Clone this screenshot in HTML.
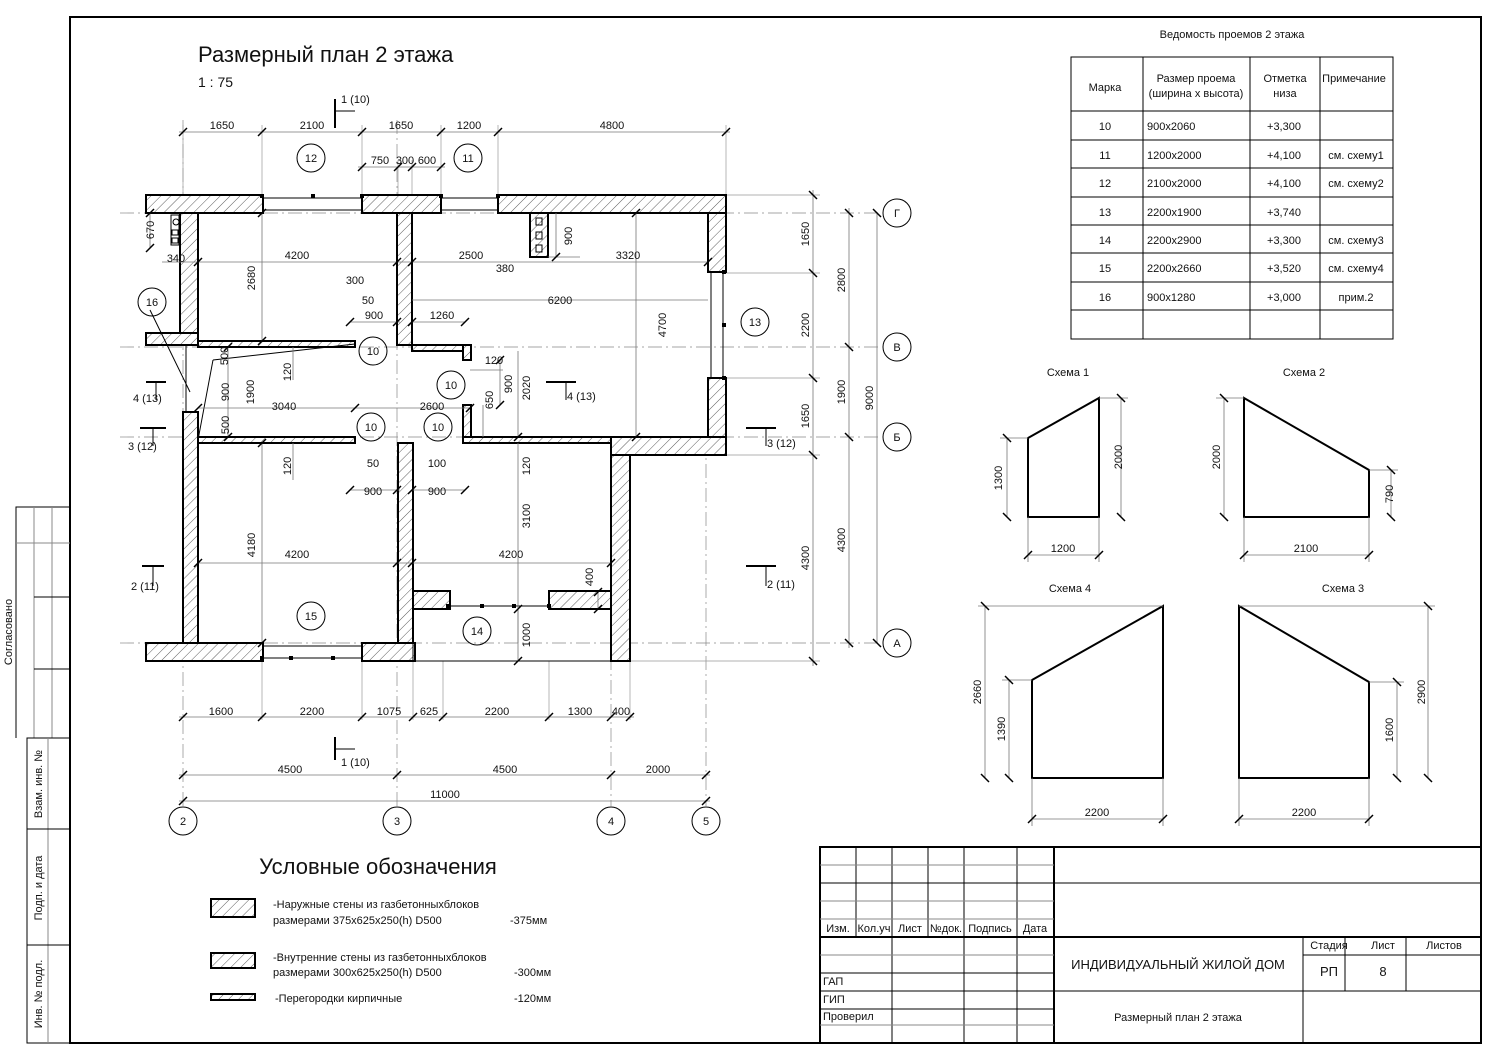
<!DOCTYPE html>
<html><head><meta charset="utf-8"><style>
html,body{margin:0;padding:0;background:#fff;}
svg{display:block;font-family:"Liberation Sans Narrow","Liberation Sans","DejaVu Sans",sans-serif;}
.t{font-size:11px;fill:#111;}
.dim{stroke:#777;stroke-width:0.8;fill:none;}
.ext{stroke:#999;stroke-width:0.7;fill:none;}
.tk{stroke:#000;stroke-width:1.5;}
.w{fill:url(#h);stroke:#000;stroke-width:2;}
.ln{stroke:#000;stroke-width:1;fill:none;}
.ax{stroke:#888;stroke-width:0.7;stroke-dasharray:14 4 2 4;fill:none;}
</style></head><body>
<svg width="1500" height="1061" viewBox="0 0 1500 1061" xmlns="http://www.w3.org/2000/svg">
<defs>
<pattern id="h" width="7" height="7" patternUnits="userSpaceOnUse" patternTransform="rotate(45)">
<rect width="7" height="7" fill="#fff"/><line x1="0" y1="0" x2="0" y2="7" stroke="#333" stroke-width="0.8"/>
</pattern>
</defs>
<rect width="1500" height="1061" fill="#fff"/>
<!-- frame -->
<rect x="70" y="17" width="1411" height="1026" fill="none" stroke="#000" stroke-width="2"/>
<!-- left stamp -->
<g class="ln">
<polyline points="70,507 16,507 16,738"/>
<line x1="34" y1="507" x2="34" y2="738" stroke="#888"/><line x1="52" y1="507" x2="52" y2="738" stroke="#888"/>
<line x1="16" y1="543" x2="70" y2="543" stroke="#888"/><line x1="34" y1="597" x2="70" y2="597"/><line x1="34" y1="669" x2="70" y2="669"/>
<polyline points="70,738 27,738 27,1043 70,1043"/>
<line x1="48" y1="738" x2="48" y2="1043" stroke="#888"/>
<line x1="27" y1="829" x2="70" y2="829"/><line x1="27" y1="945" x2="70" y2="945"/>
</g>
<g class="t" font-size="10">
<text transform="translate(12,632) rotate(-90)" text-anchor="middle">Согласовано</text>
<text transform="translate(42,784) rotate(-90)" text-anchor="middle">Взам. инв. №</text>
<text transform="translate(42,888) rotate(-90)" text-anchor="middle">Подп. и дата</text>
<text transform="translate(42,994) rotate(-90)" text-anchor="middle">Инв. № подл.</text>
</g>

<!-- title -->
<text x="198" y="62" font-size="22" fill="#111">Размерный план 2 этажа</text>
<text x="198" y="87" font-size="14" fill="#111">1 : 75</text>

<!-- axes -->
<g class="ax">
<line x1="120" y1="213" x2="882" y2="213"/><line x1="120" y1="347" x2="882" y2="347"/>
<line x1="120" y1="437" x2="882" y2="437"/><line x1="120" y1="643" x2="882" y2="643"/>
<line x1="183" y1="120" x2="183" y2="806"/><line x1="397" y1="120" x2="397" y2="806"/>
<line x1="611" y1="440" x2="611" y2="806"/><line x1="706" y1="440" x2="706" y2="806"/>
</g>
<!-- extension lines -->
<g class="ext">
<line x1="183" y1="125" x2="183" y2="195"/><line x1="262" y1="125" x2="262" y2="195"/><line x1="362" y1="125" x2="362" y2="195"/>
<line x1="441" y1="125" x2="441" y2="195"/><line x1="498" y1="125" x2="498" y2="195"/><line x1="726" y1="125" x2="726" y2="195"/>
<line x1="398" y1="160" x2="398" y2="195"/><line x1="412" y1="160" x2="412" y2="195"/>
<line x1="726" y1="195" x2="820" y2="195"/><line x1="726" y1="273" x2="820" y2="273"/><line x1="726" y1="378" x2="820" y2="378"/>
<line x1="726" y1="455" x2="820" y2="455"/><line x1="630" y1="661" x2="820" y2="661"/>
<line x1="262" y1="661" x2="262" y2="720"/><line x1="362" y1="661" x2="362" y2="720"/><line x1="413" y1="661" x2="413" y2="720"/>
<line x1="443" y1="661" x2="443" y2="720"/><line x1="549" y1="661" x2="549" y2="720"/><line x1="630" y1="661" x2="630" y2="720"/>
</g>
<!-- top dims -->
<g class="dim"><line x1="179" y1="132" x2="730" y2="132"/><line x1="358" y1="167" x2="445" y2="167"/></g>
<g class="tk">
<line x1="179" y1="136" x2="187" y2="128"/><line x1="258" y1="136" x2="266" y2="128"/><line x1="358" y1="136" x2="366" y2="128"/>
<line x1="437" y1="136" x2="445" y2="128"/><line x1="494" y1="136" x2="502" y2="128"/><line x1="722" y1="136" x2="730" y2="128"/>
<line x1="358" y1="171" x2="366" y2="163"/><line x1="394" y1="171" x2="402" y2="163"/><line x1="408" y1="171" x2="416" y2="163"/><line x1="437" y1="171" x2="445" y2="163"/>
</g>
<g class="t" text-anchor="middle">
<text x="222" y="129">1650</text><text x="312" y="129">2100</text><text x="401" y="129">1650</text><text x="469" y="129">1200</text><text x="612" y="129">4800</text>
<text x="380" y="164">750</text><text x="405" y="164">300</text><text x="427" y="164">600</text>
</g>
<g class="ln"><circle cx="311" cy="158" r="14"/><circle cx="468" cy="158" r="14"/></g>
<g class="t" text-anchor="middle"><text x="311" y="162">12</text><text x="468" y="162">11</text></g>
<!-- section marks -->
<g stroke="#000" stroke-width="2"><line x1="335" y1="99" x2="335" y2="128"/><line x1="335" y1="737" x2="335" y2="760"/>
<line x1="146" y1="382" x2="166" y2="382"/><line x1="140" y1="428" x2="166" y2="428"/><line x1="142" y1="566" x2="164" y2="566"/>
<line x1="546" y1="382" x2="576" y2="382"/><line x1="746" y1="428" x2="776" y2="428"/><line x1="746" y1="566" x2="776" y2="566"/></g>
<g class="ln" stroke-width="0.8"><line x1="336" y1="111" x2="355" y2="111"/><line x1="336" y1="749" x2="355" y2="749"/>
<line x1="156" y1="383" x2="156" y2="400"/><line x1="153" y1="429" x2="153" y2="446"/><line x1="153" y1="567" x2="153" y2="586"/>
<line x1="566" y1="383" x2="566" y2="400"/><line x1="766" y1="429" x2="766" y2="446"/><line x1="766" y1="567" x2="766" y2="586"/></g>
<g class="t" font-size="9">
<text x="341" y="103">1 (10)</text><text x="341" y="766">1 (10)</text>
<text x="133" y="402">4 (13)</text><text x="128" y="450">3 (12)</text><text x="131" y="590">2 (11)</text>
<text x="567" y="400">4 (13)</text><text x="767" y="447">3 (12)</text><text x="767" y="588">2 (11)</text>
</g>

<!-- WALLS -->
<g class="w">
<rect x="146" y="195" width="117" height="18"/>
<rect x="362" y="195" width="79" height="18"/>
<rect x="498" y="195" width="228" height="18"/>
<rect x="180" y="213" width="18" height="120"/>
<rect x="146" y="333" width="52" height="12"/>
<rect x="183" y="412" width="15" height="249"/>
<rect x="146" y="643" width="117" height="18"/>
<rect x="362" y="643" width="53" height="18"/>
<rect x="398" y="443" width="15" height="200"/>
<rect x="397" y="213" width="15" height="132"/>
<rect x="708" y="213" width="18" height="59"/>
<rect x="708" y="378" width="18" height="77"/>
<rect x="611" y="437" width="115" height="18"/>
<rect x="611" y="455" width="19" height="206"/>
<rect x="413" y="591" width="37" height="18"/>
<rect x="549" y="591" width="62" height="18"/>
<rect x="530" y="213" width="18" height="44"/>
<rect x="198" y="341" width="157" height="6"/>
<rect x="198" y="437" width="157" height="6"/>
<rect x="412" y="345" width="59" height="6"/>
<rect x="463" y="345" width="8" height="15"/>
<rect x="463" y="405" width="8" height="32"/>
<rect x="463" y="437" width="148" height="6"/>
</g>
<g class="ln" stroke-width="1.5">
<line x1="413" y1="609" x2="413" y2="661"/><line x1="413" y1="661" x2="630" y2="661"/>
<line x1="263" y1="198" x2="362" y2="198"/><line x1="263" y1="210" x2="362" y2="210"/>
<line x1="441" y1="198" x2="498" y2="198"/><line x1="441" y1="210" x2="498" y2="210"/>
<line x1="263" y1="646" x2="362" y2="646"/><line x1="263" y1="658" x2="362" y2="658"/>
<line x1="450" y1="606" x2="549" y2="606"/>
<line x1="723" y1="272" x2="723" y2="378"/><line x1="711" y1="272" x2="711" y2="378"/>
<line x1="186" y1="345" x2="186" y2="412"/>
</g>
<g fill="#000">
<rect x="311" y="194" width="4" height="4"/><rect x="260" y="194" width="4" height="4"/><rect x="360" y="194" width="4" height="4"/>
<rect x="439" y="194" width="4" height="4"/><rect x="496" y="194" width="4" height="4"/>
<rect x="722" y="270" width="4" height="4"/><rect x="722" y="323" width="4" height="4"/><rect x="722" y="376" width="4" height="4"/>
<rect x="289" y="656" width="4" height="4"/><rect x="260" y="656" width="4" height="4"/><rect x="331" y="656" width="4" height="4"/>
<rect x="446" y="604" width="4" height="4"/><rect x="480" y="604" width="4" height="4"/><rect x="512" y="604" width="4" height="4"/><rect x="547" y="604" width="4" height="4"/>
</g>
<g class="ln" stroke-width="0.8"><rect x="171" y="215" width="8" height="30"/><circle cx="176" cy="222" r="3"/><rect x="172" y="230" width="6" height="5"/><rect x="172" y="238" width="6" height="5"/>
<rect x="536" y="218" width="6" height="7"/><rect x="536" y="232" width="6" height="7"/><rect x="536" y="245" width="6" height="7"/>
<line x1="198" y1="440" x2="213" y2="360"/><line x1="213" y1="360" x2="355" y2="344"/><line x1="150" y1="310" x2="190" y2="392"/></g>

<!-- interior dims -->
<g class="dim">
<line x1="198" y1="262" x2="708" y2="262"/><line x1="198" y1="408" x2="470" y2="408"/><line x1="198" y1="563" x2="611" y2="563"/>
<line x1="262" y1="213" x2="262" y2="341"/><line x1="228" y1="347" x2="228" y2="437"/><line x1="262" y1="443" x2="262" y2="643"/>
<line x1="293" y1="347" x2="293" y2="380"/><line x1="293" y1="443" x2="293" y2="480"/>
<line x1="636" y1="213" x2="636" y2="437"/><line x1="518" y1="351" x2="518" y2="437"/><line x1="518" y1="443" x2="518" y2="643"/>
<line x1="412" y1="322" x2="465" y2="322"/><line x1="350" y1="322" x2="400" y2="322"/><line x1="412" y1="300" x2="708" y2="300"/>
<line x1="350" y1="490" x2="400" y2="490"/><line x1="412" y1="490" x2="465" y2="490"/>
<line x1="470" y1="370" x2="503" y2="370"/><line x1="500" y1="360" x2="500" y2="405"/><line x1="483" y1="405" x2="483" y2="437"/>
<line x1="598" y1="592" x2="598" y2="609"/><line x1="518" y1="609" x2="518" y2="661"/><line x1="548" y1="257" x2="580" y2="257"/><line x1="556" y1="213" x2="556" y2="257"/>
<line x1="150" y1="213" x2="150" y2="248"/><line x1="162" y1="262" x2="198" y2="262"/>
</g>
<g class="tk">
<line x1="194" y1="266" x2="202" y2="258"/><line x1="393" y1="266" x2="401" y2="258"/><line x1="408" y1="266" x2="416" y2="258"/><line x1="704" y1="266" x2="712" y2="258"/>
<line x1="194" y1="412" x2="202" y2="404"/><line x1="351" y1="412" x2="359" y2="404"/><line x1="466" y1="412" x2="474" y2="404"/>
<line x1="194" y1="567" x2="202" y2="559"/><line x1="393" y1="567" x2="401" y2="559"/><line x1="408" y1="567" x2="416" y2="559"/><line x1="607" y1="567" x2="615" y2="559"/>
<line x1="346" y1="326" x2="354" y2="318"/><line x1="393" y1="326" x2="401" y2="318"/><line x1="408" y1="326" x2="416" y2="318"/><line x1="461" y1="326" x2="469" y2="318"/>
<line x1="346" y1="494" x2="354" y2="486"/><line x1="393" y1="494" x2="401" y2="486"/><line x1="408" y1="494" x2="416" y2="486"/><line x1="461" y1="494" x2="469" y2="486"/>
<line x1="632" y1="217" x2="640" y2="209"/><line x1="632" y1="441" x2="640" y2="433"/><line x1="514" y1="441" x2="522" y2="433"/><line x1="514" y1="613" x2="522" y2="605"/><line x1="514" y1="665" x2="522" y2="657"/>
<line x1="258" y1="217" x2="266" y2="209"/><line x1="258" y1="345" x2="266" y2="337"/><line x1="258" y1="447" x2="266" y2="439"/><line x1="258" y1="647" x2="266" y2="639"/>
<line x1="224" y1="351" x2="232" y2="343"/><line x1="224" y1="441" x2="232" y2="433"/><line x1="146" y1="217" x2="154" y2="209"/><line x1="146" y1="252" x2="154" y2="244"/>
<line x1="594" y1="596" x2="602" y2="588"/><line x1="594" y1="613" x2="602" y2="605"/><line x1="552" y1="261" x2="560" y2="253"/><line x1="496" y1="364" x2="504" y2="356"/><line x1="496" y1="409" x2="504" y2="401"/>
</g>
<g class="t" text-anchor="middle">
<text x="297" y="259">4200</text><text x="471" y="259">2500</text><text x="628" y="259">3320</text>
<text x="505" y="272">380</text><text x="355" y="284">300</text><text x="368" y="304">50</text><text x="560" y="304">6200</text>
<text x="374" y="319">900</text><text x="442" y="319">1260</text>
<text x="284" y="410">3040</text><text x="432" y="410">2600</text><text x="494" y="364">120</text>
<text x="297" y="558">4200</text><text x="511" y="558">4200</text>
<text x="373" y="467">50</text><text x="437" y="467">100</text><text x="373" y="495">900</text><text x="437" y="495">900</text>
<text x="176" y="262">340</text>
</g>
<g class="t" text-anchor="middle">
<text transform="translate(255,278) rotate(-90)">2680</text><text transform="translate(291,372) rotate(-90)">120</text>
<text transform="translate(228,356) rotate(-90)">500</text><text transform="translate(229,392) rotate(-90)">900</text>
<text transform="translate(254,392) rotate(-90)">1900</text><text transform="translate(229,425) rotate(-90)">500</text>
<text transform="translate(291,466) rotate(-90)">120</text><text transform="translate(255,545) rotate(-90)">4180</text>
<text transform="translate(666,325) rotate(-90)">4700</text><text transform="translate(572,236) rotate(-90)">900</text>
<text transform="translate(512,384) rotate(-90)">900</text><text transform="translate(530,388) rotate(-90)">2020</text>
<text transform="translate(493,400) rotate(-90)">650</text><text transform="translate(530,466) rotate(-90)">120</text>
<text transform="translate(530,516) rotate(-90)">3100</text><text transform="translate(593,577) rotate(-90)">400</text>
<text transform="translate(530,635) rotate(-90)">1000</text><text transform="translate(154,230) rotate(-90)">670</text>
</g>
<!-- marks -->
<g class="ln" fill="#fff">
<circle cx="152" cy="302" r="14"/><circle cx="373" cy="351" r="14"/><circle cx="451" cy="385" r="14"/>
<circle cx="371" cy="427" r="14"/><circle cx="438" cy="427" r="14"/><circle cx="311" cy="616" r="14"/><circle cx="477" cy="631" r="14"/><circle cx="755" cy="322" r="14"/>
</g>
<g class="t" text-anchor="middle" font-size="12">
<text x="152" y="306">16</text><text x="373" y="355">10</text><text x="451" y="389">10</text><text x="371" y="431">10</text>
<text x="438" y="431">10</text><text x="311" y="620">15</text><text x="477" y="635">14</text><text x="755" y="326">13</text>
</g>

<!-- right dims -->
<g class="dim"><line x1="813" y1="190" x2="813" y2="666"/><line x1="849" y1="208" x2="849" y2="648"/><line x1="877" y1="213" x2="877" y2="643"/></g>
<g class="tk">
<line x1="809" y1="191" x2="817" y2="199"/><line x1="809" y1="269" x2="817" y2="277"/><line x1="809" y1="374" x2="817" y2="382"/>
<line x1="809" y1="451" x2="817" y2="459"/><line x1="809" y1="657" x2="817" y2="665"/>
<line x1="845" y1="209" x2="853" y2="217"/><line x1="845" y1="343" x2="853" y2="351"/><line x1="845" y1="433" x2="853" y2="441"/><line x1="845" y1="639" x2="853" y2="647"/>
<line x1="873" y1="209" x2="881" y2="217"/><line x1="873" y1="639" x2="881" y2="647"/>
</g>
<g class="t" text-anchor="middle">
<text transform="translate(809,234) rotate(-90)">1650</text><text transform="translate(809,325) rotate(-90)">2200</text>
<text transform="translate(809,416) rotate(-90)">1650</text><text transform="translate(809,558) rotate(-90)">4300</text>
<text transform="translate(845,280) rotate(-90)">2800</text><text transform="translate(845,392) rotate(-90)">1900</text>
<text transform="translate(845,540) rotate(-90)">4300</text><text transform="translate(873,398) rotate(-90)">9000</text>
</g>
<g class="ln"><circle cx="897" cy="213" r="14"/><circle cx="897" cy="347" r="14"/><circle cx="897" cy="437" r="14"/><circle cx="897" cy="643" r="14"/></g>
<g class="t" text-anchor="middle" font-size="12"><text x="897" y="217">Г</text><text x="897" y="351">В</text><text x="897" y="441">Б</text><text x="897" y="647">А</text></g>

<!-- bottom dims -->
<g class="dim"><line x1="179" y1="717" x2="634" y2="717"/><line x1="179" y1="775" x2="710" y2="775"/><line x1="179" y1="801" x2="710" y2="801"/></g>
<g class="tk">
<line x1="179" y1="721" x2="187" y2="713"/><line x1="258" y1="721" x2="266" y2="713"/><line x1="358" y1="721" x2="366" y2="713"/><line x1="409" y1="721" x2="417" y2="713"/>
<line x1="439" y1="721" x2="447" y2="713"/><line x1="545" y1="721" x2="553" y2="713"/><line x1="607" y1="721" x2="615" y2="713"/><line x1="626" y1="721" x2="634" y2="713"/>
<line x1="179" y1="779" x2="187" y2="771"/><line x1="393" y1="779" x2="401" y2="771"/><line x1="607" y1="779" x2="615" y2="771"/><line x1="702" y1="779" x2="710" y2="771"/>
<line x1="179" y1="805" x2="187" y2="797"/><line x1="702" y1="805" x2="710" y2="797"/>
</g>
<g class="t" text-anchor="middle">
<text x="221" y="715">1600</text><text x="312" y="715">2200</text><text x="389" y="715">1075</text><text x="429" y="715">625</text>
<text x="497" y="715">2200</text><text x="580" y="715">1300</text><text x="621" y="715">400</text>
<text x="290" y="773">4500</text><text x="505" y="773">4500</text><text x="658" y="773">2000</text><text x="445" y="798">11000</text>
</g>
<g class="ln"><circle cx="183" cy="821" r="14"/><circle cx="397" cy="821" r="14"/><circle cx="611" cy="821" r="14"/><circle cx="706" cy="821" r="14"/></g>
<g class="t" text-anchor="middle" font-size="12"><text x="183" y="825">2</text><text x="397" y="825">3</text><text x="611" y="825">4</text><text x="706" y="825">5</text></g>

<!-- legend -->
<text x="378" y="874" font-size="22" fill="#111" text-anchor="middle">Условные обозначения</text>
<rect x="211" y="899" width="44" height="18" class="w"/><rect x="211" y="953" width="44" height="15" class="w"/><rect x="211" y="994" width="44" height="6" class="w"/>
<g class="t">
<text x="273" y="908">-Наружные стены из газбетонныхблоков</text><text x="273" y="924">размерами  375x625x250(h)  D500</text><text x="510" y="924">-375мм</text>
<text x="273" y="961">-Внутренние стены из газбетонныхблоков</text><text x="273" y="976">размерами  300x625x250(h)  D500</text><text x="514" y="976">-300мм</text>
<text x="275" y="1002">-Перегородки кирпичные</text><text x="514" y="1002">-120мм</text>
</g>

<!-- table -->
<text x="1232" y="38" class="t" text-anchor="middle">Ведомость  проемов 2 этажа</text>
<g class="ln">
<rect x="1071" y="57" width="322" height="282"/>
<line x1="1143" y1="57" x2="1143" y2="339"/><line x1="1250" y1="57" x2="1250" y2="339"/><line x1="1320" y1="57" x2="1320" y2="339"/>
<line x1="1071" y1="111" x2="1393" y2="111"/><line x1="1071" y1="140" x2="1393" y2="140"/><line x1="1071" y1="168" x2="1393" y2="168"/>
<line x1="1071" y1="197" x2="1393" y2="197"/><line x1="1071" y1="225" x2="1393" y2="225"/><line x1="1071" y1="253" x2="1393" y2="253"/>
<line x1="1071" y1="282" x2="1393" y2="282"/><line x1="1071" y1="310" x2="1393" y2="310"/>
</g>
<g class="t">
<text x="1105" y="91" text-anchor="middle">Марка</text><text x="1196" y="82" text-anchor="middle">Размер проема</text><text x="1196" y="97" text-anchor="middle">(ширина х высота)</text>
<text x="1285" y="82" text-anchor="middle">Отметка</text><text x="1285" y="97" text-anchor="middle">низа</text><text x="1354" y="82" text-anchor="middle">Примечание</text>
<g text-anchor="middle"><text x="1105" y="130">10</text><text x="1105" y="159">11</text><text x="1105" y="187">12</text><text x="1105" y="216">13</text><text x="1105" y="244">14</text><text x="1105" y="272">15</text><text x="1105" y="301">16</text>
<text x="1284" y="130">+3,300</text><text x="1284" y="159">+4,100</text><text x="1284" y="187">+4,100</text><text x="1284" y="216">+3,740</text><text x="1284" y="244">+3,300</text><text x="1284" y="272">+3,520</text><text x="1284" y="301">+3,000</text>
<text x="1356" y="159">см. схему1</text><text x="1356" y="187">см. схему2</text><text x="1356" y="244">см. схему3</text><text x="1356" y="272">см. схему4</text><text x="1356" y="301">прим.2</text></g>
<text x="1147" y="130">900x2060</text><text x="1147" y="159">1200x2000</text><text x="1147" y="187">2100x2000</text><text x="1147" y="216">2200x1900</text><text x="1147" y="244">2200x2900</text><text x="1147" y="272">2200x2660</text><text x="1147" y="301">900x1280</text>
</g>

<!-- schemes -->
<g class="t" text-anchor="middle"><text x="1068" y="376">Схема 1</text><text x="1304" y="376">Схема 2</text><text x="1070" y="592">Схема 4</text><text x="1343" y="592">Схема 3</text></g>
<g stroke="#000" stroke-width="2" fill="none">
<polygon points="1028,438 1099,398 1099,517 1028,517"/><polygon points="1244,398 1369,470 1369,517 1244,517"/>
<polygon points="1032,680 1163,606 1163,778 1032,778"/><polygon points="1239,606 1369,682 1369,778 1239,778"/>
</g>
<g class="dim">
<line x1="1007" y1="438" x2="1007" y2="517"/><line x1="1121" y1="398" x2="1121" y2="517"/><line x1="1028" y1="555" x2="1099" y2="555"/>
<line x1="1224" y1="398" x2="1224" y2="517"/><line x1="1391" y1="470" x2="1391" y2="517"/><line x1="1244" y1="555" x2="1369" y2="555"/>
<line x1="985" y1="606" x2="985" y2="778"/><line x1="1009" y1="680" x2="1009" y2="778"/><line x1="1032" y1="819" x2="1163" y2="819"/>
<line x1="1428" y1="606" x2="1428" y2="778"/><line x1="1397" y1="682" x2="1397" y2="778"/><line x1="1239" y1="819" x2="1369" y2="819"/>
<line x1="1000" y1="438" x2="1028" y2="438"/><line x1="1099" y1="398" x2="1128" y2="398"/><line x1="1216" y1="398" x2="1244" y2="398"/><line x1="1369" y1="470" x2="1398" y2="470"/>
<line x1="978" y1="606" x2="1163" y2="606"/><line x1="1002" y1="680" x2="1032" y2="680"/><line x1="1239" y1="606" x2="1435" y2="606"/><line x1="1369" y1="682" x2="1404" y2="682"/>
<line x1="1028" y1="517" x2="1028" y2="562"/><line x1="1099" y1="517" x2="1099" y2="562"/><line x1="1244" y1="517" x2="1244" y2="562"/><line x1="1369" y1="517" x2="1369" y2="562"/>
<line x1="1032" y1="778" x2="1032" y2="826"/><line x1="1163" y1="778" x2="1163" y2="826"/><line x1="1239" y1="778" x2="1239" y2="826"/><line x1="1369" y1="778" x2="1369" y2="826"/>
</g>
<g class="tk">
<line x1="1003" y1="434" x2="1011" y2="442"/><line x1="1003" y1="513" x2="1011" y2="521"/><line x1="1117" y1="394" x2="1125" y2="402"/><line x1="1117" y1="513" x2="1125" y2="521"/>
<line x1="1024" y1="559" x2="1032" y2="551"/><line x1="1095" y1="559" x2="1103" y2="551"/>
<line x1="1220" y1="394" x2="1228" y2="402"/><line x1="1220" y1="513" x2="1228" y2="521"/><line x1="1387" y1="466" x2="1395" y2="474"/><line x1="1387" y1="513" x2="1395" y2="521"/>
<line x1="1240" y1="559" x2="1248" y2="551"/><line x1="1365" y1="559" x2="1373" y2="551"/>
<line x1="981" y1="602" x2="989" y2="610"/><line x1="981" y1="774" x2="989" y2="782"/><line x1="1005" y1="676" x2="1013" y2="684"/><line x1="1005" y1="774" x2="1013" y2="782"/>
<line x1="1028" y1="823" x2="1036" y2="815"/><line x1="1159" y1="823" x2="1167" y2="815"/>
<line x1="1424" y1="602" x2="1432" y2="610"/><line x1="1424" y1="774" x2="1432" y2="782"/><line x1="1393" y1="678" x2="1401" y2="686"/><line x1="1393" y1="774" x2="1401" y2="782"/>
<line x1="1235" y1="823" x2="1243" y2="815"/><line x1="1365" y1="823" x2="1373" y2="815"/>
</g>
<g class="t" text-anchor="middle">
<text transform="translate(1002,478) rotate(-90)">1300</text><text transform="translate(1122,457) rotate(-90)">2000</text><text x="1063" y="552">1200</text>
<text transform="translate(1220,457) rotate(-90)">2000</text><text transform="translate(1393,494) rotate(-90)">790</text><text x="1306" y="552">2100</text>
<text transform="translate(981,692) rotate(-90)">2660</text><text transform="translate(1005,729) rotate(-90)">1390</text><text x="1097" y="816">2200</text>
<text transform="translate(1425,692) rotate(-90)">2900</text><text transform="translate(1393,730) rotate(-90)">1600</text><text x="1304" y="816">2200</text>
</g>

<!-- title block -->
<g class="ln">
<rect x="820" y="847" width="661" height="196" stroke-width="2"/>
<line x1="856" y1="847" x2="856" y2="937"/><line x1="892" y1="847" x2="892" y2="1043"/><line x1="928" y1="847" x2="928" y2="937"/>
<line x1="964" y1="847" x2="964" y2="1043"/><line x1="1017" y1="847" x2="1017" y2="1043"/><line x1="1054" y1="847" x2="1054" y2="1043" stroke-width="2"/>
<line x1="820" y1="865" x2="1054" y2="865" stroke="#888"/><line x1="820" y1="883" x2="1481" y2="883"/><line x1="820" y1="901" x2="1054" y2="901" stroke="#888"/>
<line x1="820" y1="919" x2="1054" y2="919" stroke="#888"/><line x1="820" y1="937" x2="1481" y2="937" stroke-width="2"/>
<line x1="820" y1="955" x2="1054" y2="955" stroke="#888"/><line x1="820" y1="973" x2="1054" y2="973"/><line x1="820" y1="991" x2="1481" y2="991"/>
<line x1="820" y1="1009" x2="1054" y2="1009"/><line x1="820" y1="1025" x2="1054" y2="1025" stroke="#888"/>
<line x1="1303" y1="937" x2="1303" y2="1043"/><line x1="1345" y1="937" x2="1345" y2="991"/><line x1="1406" y1="937" x2="1406" y2="991"/>
<line x1="1303" y1="955" x2="1481" y2="955"/>
</g>
<g class="t" font-size="10.5">
<text x="838" y="932" text-anchor="middle">Изм.</text><text x="874" y="932" text-anchor="middle">Кол.уч</text><text x="910" y="932" text-anchor="middle">Лист</text>
<text x="946" y="932" text-anchor="middle">№док.</text><text x="990" y="932" text-anchor="middle">Подпись</text><text x="1035" y="932" text-anchor="middle">Дата</text>
<text x="823" y="985">ГАП</text><text x="823" y="1003">ГИП</text><text x="823" y="1020">Проверил</text>
<text x="1329" y="949" text-anchor="middle">Стадия</text><text x="1383" y="949" text-anchor="middle">Лист</text><text x="1444" y="949" text-anchor="middle">Листов</text>
</g>
<text x="1178" y="969" font-size="13" fill="#111" text-anchor="middle">ИНДИВИДУАЛЬНЫЙ ЖИЛОЙ ДОМ</text>
<text x="1329" y="976" font-size="13" fill="#111" text-anchor="middle">РП</text><text x="1383" y="976" font-size="13" fill="#111" text-anchor="middle">8</text>
<text x="1178" y="1021" class="t" text-anchor="middle">Размерный план 2 этажа</text>
</svg>
</body></html>
